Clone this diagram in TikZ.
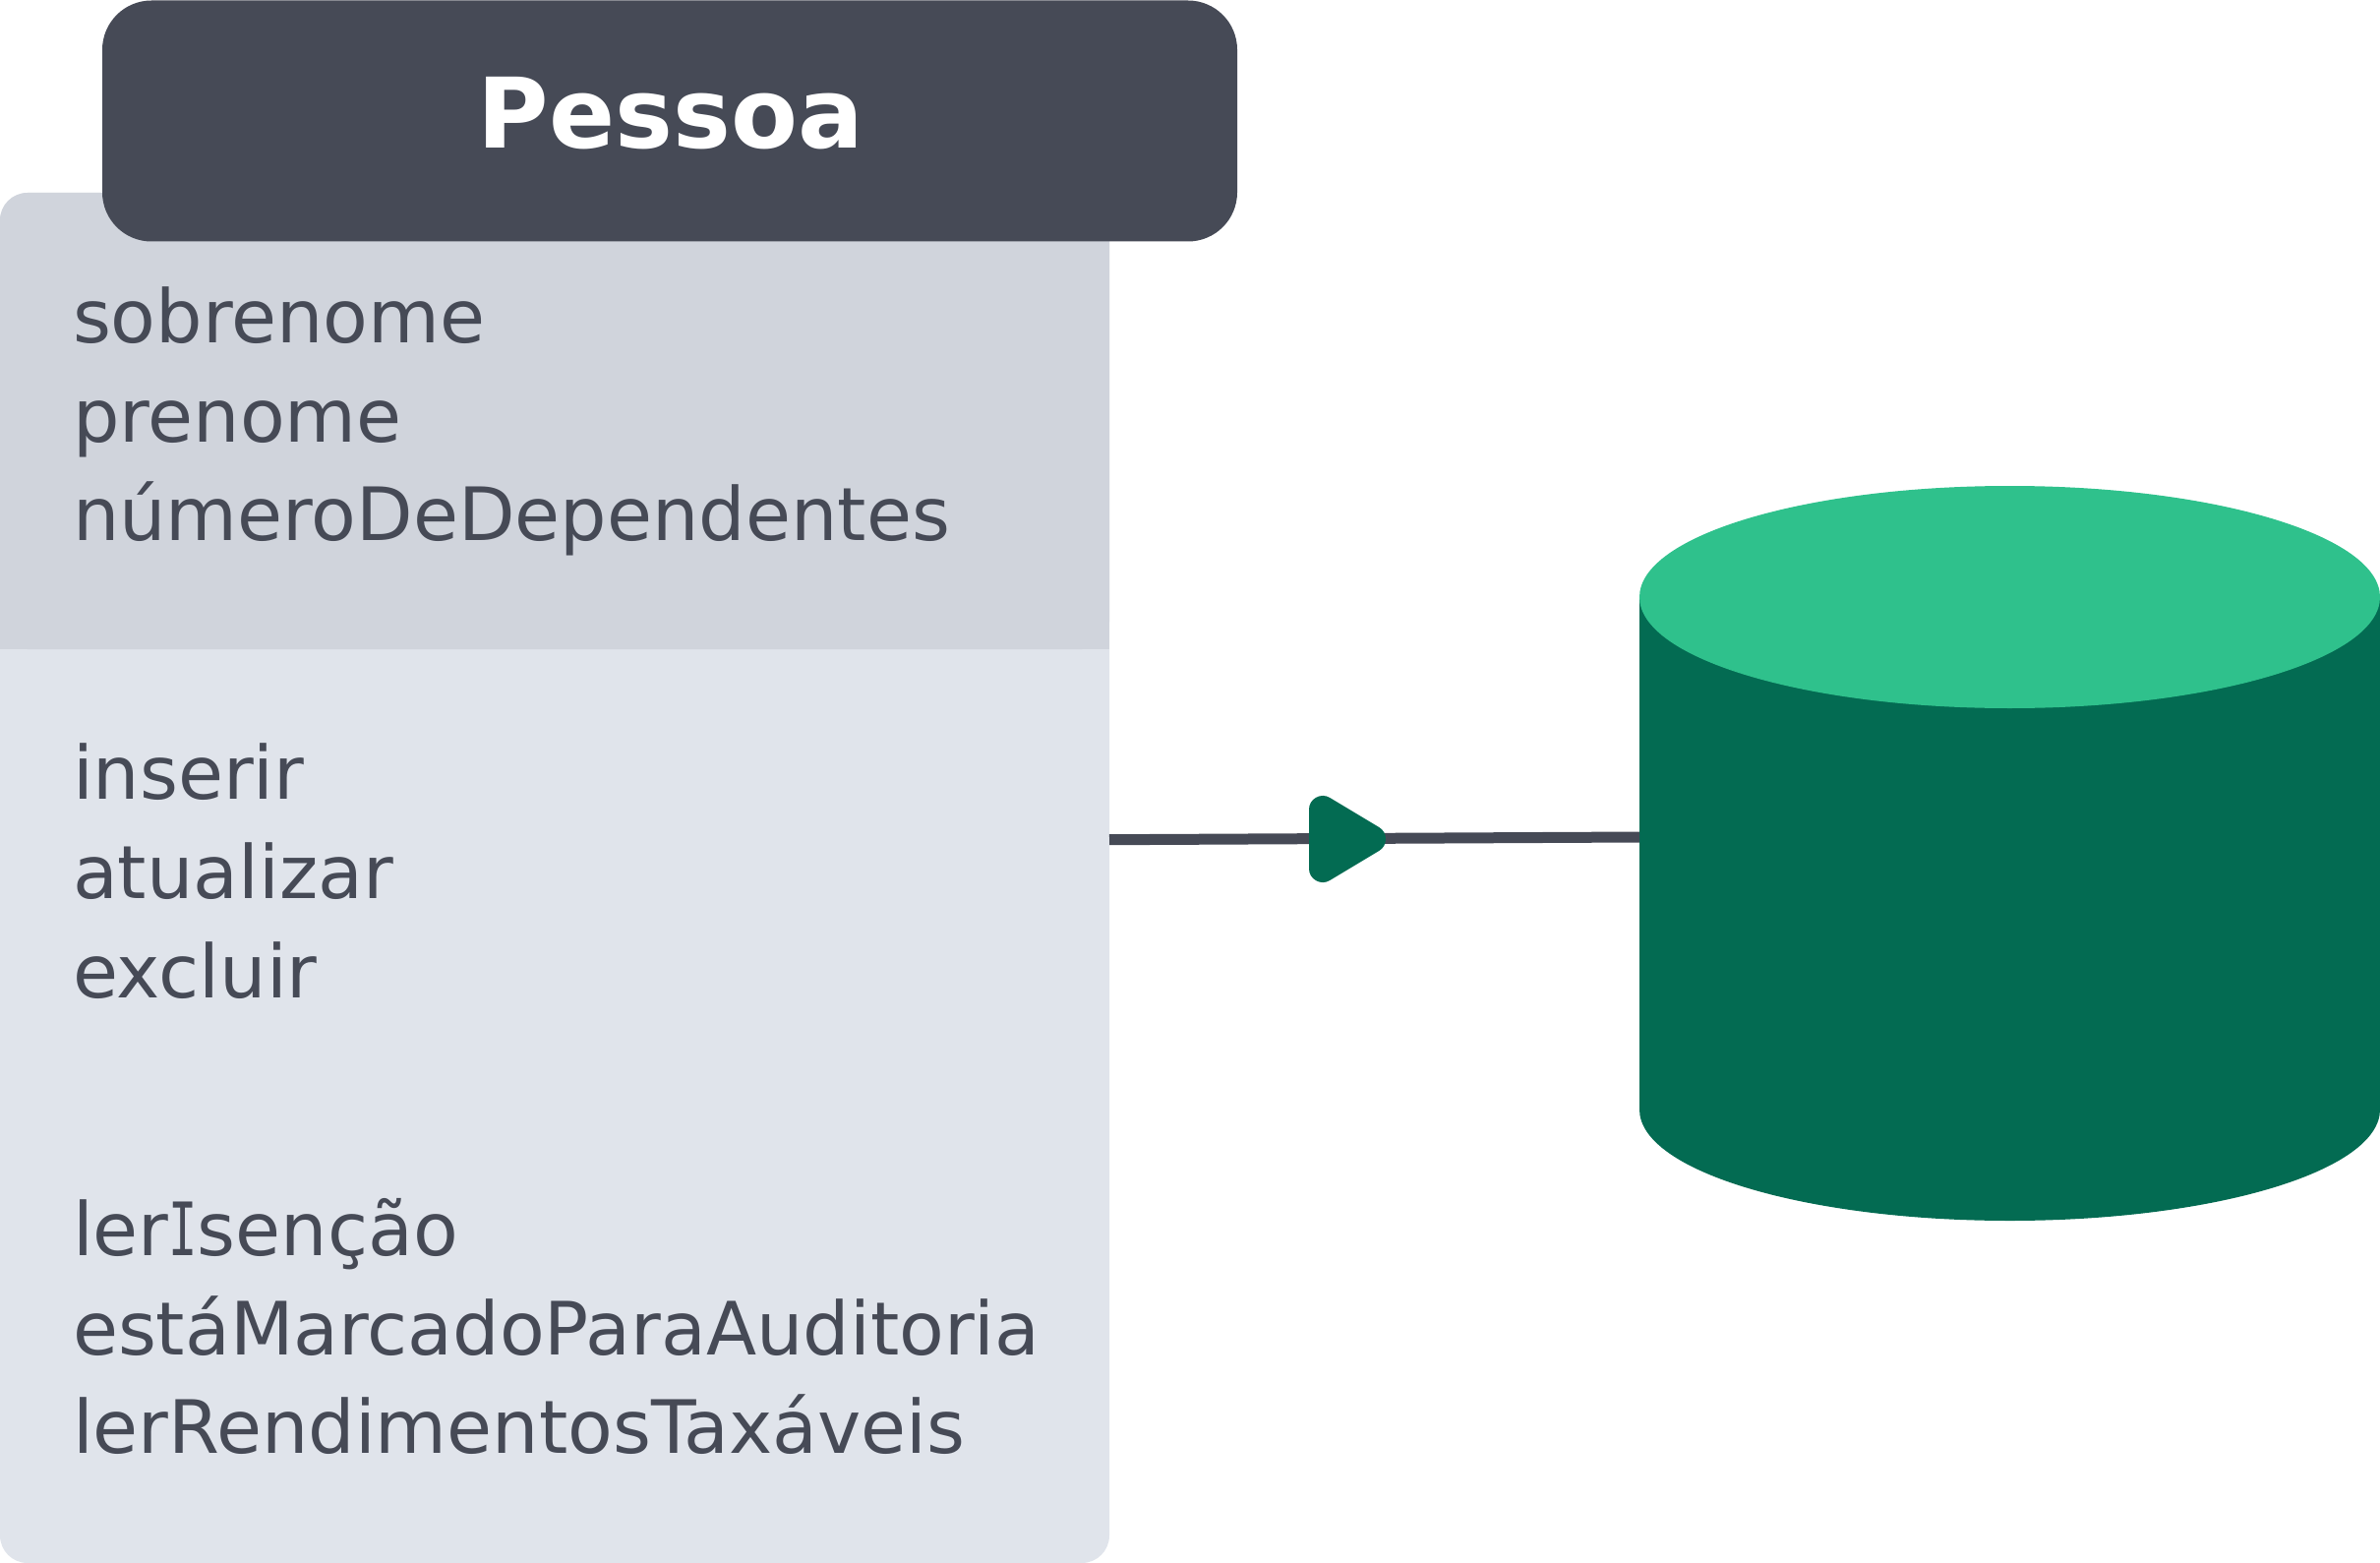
\documentclass[tikz,border=0pt]{standalone}
\usepackage{fontspec}
\usetikzlibrary{shapes.geometric}
\setmainfont{DejaVu Sans}
\newfontfamily\capifont[FakeStretch=0.65]{DejaVu Sans Mono}
\newcommand{\capI}{{\capifont I}}
\definecolor{slatedark}{HTML}{464A56}
\definecolor{bodytop}{HTML}{D0D4DC}
\definecolor{bodylow}{HTML}{E0E4EB}
\definecolor{greendark}{HTML}{036B52}
\definecolor{greenlight}{HTML}{2FC18C}
\tikzset{
  item/.style={anchor=base west,inner sep=0pt,outer sep=0pt,text=slatedark,font=\fontsize{74.8}{74.8}\selectfont},
  title/.style={fill=slatedark,rounded corners=50pt,inner sep=0pt,outer sep=0pt,anchor=north west,minimum width=1154pt,minimum height=245pt},
  bodybox/.style={fill=bodylow,rounded corners=28pt,inner sep=0pt,outer sep=0pt,anchor=north west,minimum width=1128pt,minimum height=1393pt},
  conn/.style={draw=slatedark,line width=11pt},
  tip/.style={fill=greendark,draw=greendark,line width=28pt,line join=round}
}
\begin{document}
\begin{tikzpicture}[x=1pt,y=-1pt]
\useasboundingbox (0,0) rectangle (2420,1589);
% class body
\node[bodybox] (body) at (0,196) {};
\fill[bodytop,rounded corners=28pt] (0,660) -- (0,196) -- (1128,196) -- (1128,660) -- cycle;
\fill[bodytop] (0,630) rectangle (1128,660);
\node[title] (head) at (104,0.5) {};
\node[anchor=base,inner sep=0pt,text=white,font=\fontsize{99}{99}\selectfont\bfseries] (headtxt) at (682,151) {Pessoa};
% attribute lines
\node[item] (t1) at (74,348.5) {sobrenome};
\node[item] (t2) at (74,449.5) {prenome};
\node[item] (t3) at (74,549.5) {númeroDeDependentes};
\node[item] (t4) at (74,812.5) {inserir};
\node[item] (t5) at (74,913.5) {atualizar};
\node[item] (t6) at (74,1014) {excluir};
\node[item] (t7) at (74,1276) {ler\capI sen\c{c}ão};
\node[item] (t8) at (74,1377) {estáMarcadoParaAuditoria};
\node[item] (t9) at (74,1477) {lerRendimentosTaxáveis};
% cylinder
\fill[greendark] (1667,607) -- (1667,1128) arc[x radius=376.5,y radius=113,start angle=180,end angle=0] -- (2420,607) -- cycle;
\node[ellipse,fill=greenlight,inner sep=0pt,outer sep=0pt,minimum width=753pt,minimum height=226pt] (cyl) at (2043.5,607) {};
% connector
\coordinate (cstart) at (1128,853.7);
\coordinate (cend) at (1667,851);
\draw[conn] (cstart) -- (cend);
\coordinate (m1) at (1345,823);
\coordinate (m2) at (1395,853);
\coordinate (m3) at (1345,883);
\path[tip] (m1) -- (m2) -- (m3) -- cycle;
\end{tikzpicture}
\end{document}
